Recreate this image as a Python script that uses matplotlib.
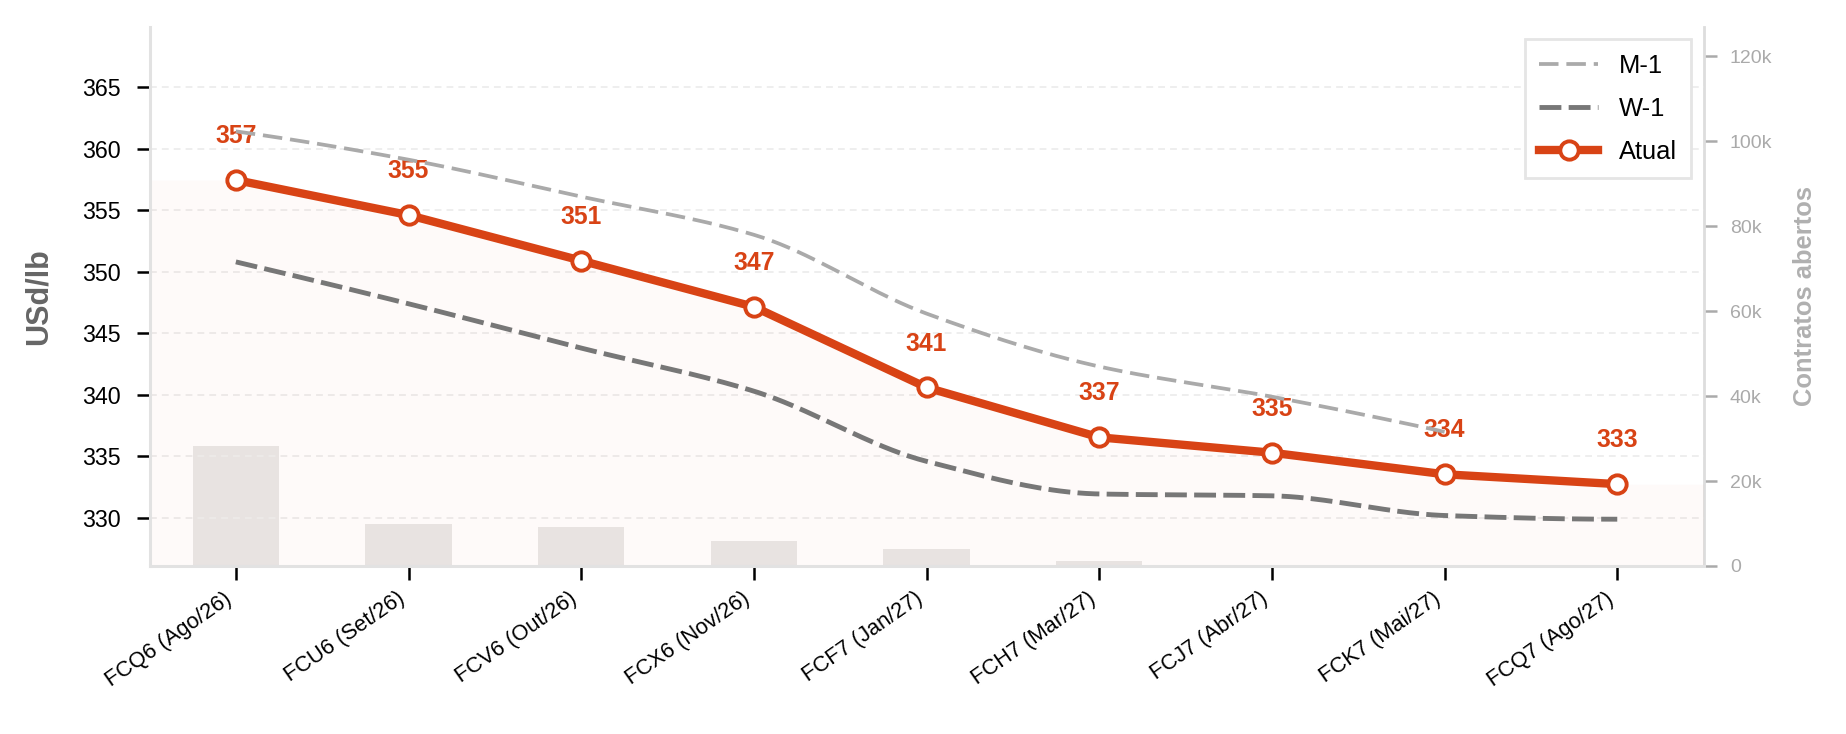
import numpy as np
import matplotlib
matplotlib.use("Agg")
import matplotlib.pyplot as plt
from matplotlib.ticker import FuncFormatter, MultipleLocator

plt.rcParams['font.family'] = ['Liberation Sans', 'DejaVu Sans']

# ---------------- data ----------------
contracts = ["FCQ6 (Ago/26)", "FCU6 (Set/26)", "FCV6 (Out/26)", "FCX6 (Nov/26)",
             "FCF7 (Jan/27)", "FCH7 (Mar/27)", "FCJ7 (Abr/27)", "FCK7 (Mai/27)",
             "FCQ7 (Ago/27)"]
atual = [357.45, 354.6, 350.9, 347.15, 340.6, 336.55, 335.3, 333.55, 332.75]
w_1 = [350.8, 347.4, 343.8, 340.3, 334.6, 331.95, 331.8, 330.2, 329.9]
m_1 = [361.4, 359.1, 356.1, 353.0, 346.6, 342.3, 339.85, 337.0, np.nan]
open_interest = [28200, 9800, 9100, 6000, 3900, 1100, 0, 0, 0]

RED = '#D84315'


def pchip_curve(xs, ys, n=40):
    """Monotone cubic (PCHIP) rendering of a series for a smooth line."""
    xs = np.asarray(xs, float)
    ys = np.asarray(ys, float)
    h = np.diff(xs)
    delta = np.diff(ys) / h
    m = len(xs)
    d = np.zeros(m)
    for k in range(1, m - 1):
        if delta[k - 1] * delta[k] <= 0:
            d[k] = 0.0
        else:
            w1 = 2 * h[k] + h[k - 1]
            w2 = h[k] + 2 * h[k - 1]
            d[k] = (w1 + w2) / (w1 / delta[k - 1] + w2 / delta[k])

    def end(h0, h1, d0, d1):
        v = ((2 * h0 + h1) * d0 - h0 * d1) / (h0 + h1)
        if np.sign(v) != np.sign(d0):
            v = 0.0
        elif np.sign(d0) != np.sign(d1) and abs(v) > abs(3 * d0):
            v = 3 * d0
        return v

    d[0] = end(h[0], h[1], delta[0], delta[1])
    d[-1] = end(h[-1], h[-2], delta[-1], delta[-2])
    px, py = [], []
    for k in range(m - 1):
        t = np.linspace(0, 1, n, endpoint=(k == m - 2))
        h00 = 2 * t**3 - 3 * t**2 + 1
        h10 = t**3 - 2 * t**2 + t
        h01 = -2 * t**3 + 3 * t**2
        h11 = t**3 - t**2
        px.append(xs[k] + t * h[k])
        py.append(h00 * ys[k] + h10 * h[k] * d[k] + h01 * ys[k + 1] + h11 * h[k] * d[k + 1])
    return np.concatenate(px), np.concatenate(py)


W, H, DPI = 1846, 734, 200
fig = plt.figure(figsize=(W / DPI, H / DPI), dpi=DPI)
left, right, top, bottom = 149.5, 1703.6, 26.7, 566.0
ax = fig.add_axes([left / W, 1 - bottom / H, (right - left) / W, (bottom - top) / H])
ax2 = ax.twinx()
ax.set_zorder(ax2.get_zorder() + 1)
ax.patch.set_visible(False)

x = np.arange(len(contracts))

# bars: open interest on secondary axis
ax2.bar(x, open_interest, width=0.5, color='#e9e7e6', zorder=1)
ax2.set_ylim(0, 127000)
ax2.yaxis.set_major_locator(MultipleLocator(20000))
ax2.yaxis.set_major_formatter(FuncFormatter(lambda v, p: '0' if v == 0 else f'{int(v/1000)}k'))
ax2.tick_params(axis='y', colors='#aaaaaa', labelsize=7.0, length=4.6, width=0.9, pad=4.9)
ax2.set_ylabel('Contratos abertos', color='#b0b0b0', fontsize=9.2, fontweight='bold')
ax2.yaxis.set_label_coords(1.0576, 0.5)
for s in ['top', 'left', 'bottom']:
    ax2.spines[s].set_visible(False)
ax2.spines['right'].set_color('#dddddd')
ax2.spines['right'].set_linewidth(1.0)

# fill under current curve
xf = np.concatenate([[-0.5], x, [len(x) - 0.5]])
yf = np.concatenate([[atual[0]], atual, [atual[-1]]])
ax.fill_between(xf, yf, 300, color=RED, alpha=0.022, linewidth=0, zorder=1)

# smooth comparison lines
m1 = np.array(m_1)
valid = ~np.isnan(m1)
mx, my = pchip_curve(x[valid], m1[valid])
ax.plot(mx, my, color='#aaaaaa', lw=1.35, linestyle=(0, (5.2, 2.1)), label='M-1', zorder=2)
wx, wy = pchip_curve(x, w_1)
ax.plot(wx, wy, color='#777777', lw=1.75, linestyle=(0, (4.5, 1.5)), label='W-1', zorder=2)

ax.plot(x, atual, color=RED, lw=3.0, marker='o', markersize=6.6, markerfacecolor='white',
        markeredgecolor=RED, markeredgewidth=1.4, label='Atual', zorder=4)

for xi, v in zip(x, atual):
    ax.annotate(f'{v:.0f}', (xi, v), xytext=(0, 15.8), textcoords='offset points',
                ha='center', va='center', color=RED, fontsize=8.9, fontweight='bold', zorder=1.5)

ax.set_xlim(-0.5, len(x) - 0.5)
ax.set_ylim(326.1, 369.9)
ax.set_yticks(np.arange(330, 366, 5))
ax.set_xticks(x)
ax.set_xticklabels(contracts, rotation=35, ha='right', fontsize=7.9)
ax.tick_params(axis='x', length=5.0, width=0.9, pad=3.0, colors='black')
ax.tick_params(axis='y', length=4.6, width=0.9, pad=5.6, labelsize=8.4)
ax.grid(axis='y', color='#eeeeee', lw=0.7, linestyle=(0, (3.5, 2.6)), zorder=0)
ax.set_axisbelow(True)

ax.set_ylabel('USd/lb', color='#666666', fontsize=11, fontweight='bold')
ax.yaxis.set_label_coords(-0.0615, 0.5)

ax.spines['top'].set_visible(False)
ax.spines['right'].set_visible(False)
for s in ['left', 'bottom']:
    ax.spines[s].set_color('#e2e2e2')
    ax.spines[s].set_linewidth(1.1)

leg = ax.legend(loc='upper right', fontsize=9.2, frameon=True, fancybox=False,
                borderaxespad=0.5, handlelength=2.3, labelspacing=0.75,
                borderpad=0.55, handletextpad=0.8)
leg.get_frame().set_edgecolor('#e5e5e5')
leg.get_frame().set_linewidth(1.0)
leg.get_frame().set_facecolor('white')
leg.get_frame().set_alpha(1.0)

fig.savefig('out.png', dpi=DPI)
